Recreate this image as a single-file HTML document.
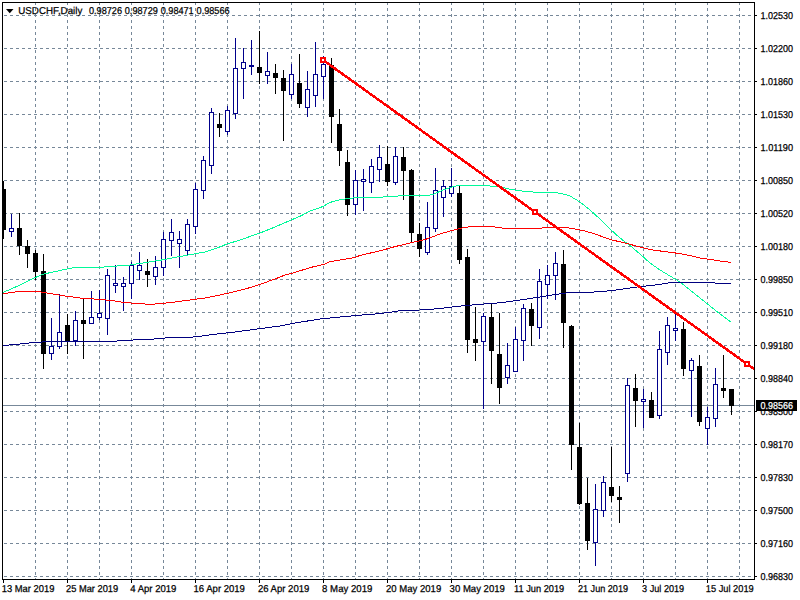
<!DOCTYPE html><html><head><meta charset="utf-8"><title>USDCHF,Daily</title>
<style>html,body{margin:0;padding:0;background:#fff;overflow:hidden}svg{display:block}text{font-family:"Liberation Sans",sans-serif;font-size:10px;text-rendering:geometricPrecision;fill:#000;stroke:#000;stroke-width:0.25px}</style></head><body>
<svg width="800" height="600" viewBox="0 0 800 600">
<rect width="800" height="600" fill="#fff"/>
<g shape-rendering="crispEdges" stroke="#778899" stroke-width="1" stroke-dasharray="3 3" fill="none">
<path d="M4 15.5H754"/>
<path d="M4 48.5H754"/>
<path d="M4 81.5H754"/>
<path d="M4 114.5H754"/>
<path d="M4 147.5H754"/>
<path d="M4 180.5H754"/>
<path d="M4 213.5H754"/>
<path d="M4 246.5H754"/>
<path d="M4 279.5H754"/>
<path d="M4 312.5H754"/>
<path d="M4 345.5H754"/>
<path d="M4 378.5H754"/>
<path d="M4 411.5H754"/>
<path d="M4 444.5H754"/>
<path d="M4 477.5H754"/>
<path d="M4 510.5H754"/>
<path d="M4 543.5H754"/>
<path d="M4 576.5H754"/>
<path d="M35.5 2V579"/>
<path d="M67.5 2V579"/>
<path d="M99.5 2V579"/>
<path d="M131.5 2V579"/>
<path d="M163.5 2V579"/>
<path d="M195.5 2V579"/>
<path d="M227.5 2V579"/>
<path d="M259.5 2V579"/>
<path d="M291.5 2V579"/>
<path d="M323.5 2V579"/>
<path d="M355.5 2V579"/>
<path d="M387.5 2V579"/>
<path d="M419.5 2V579"/>
<path d="M451.5 2V579"/>
<path d="M483.5 2V579"/>
<path d="M515.5 2V579"/>
<path d="M547.5 2V579"/>
<path d="M579.5 2V579"/>
<path d="M611.5 2V579"/>
<path d="M643.5 2V579"/>
<path d="M675.5 2V579"/>
<path d="M707.5 2V579"/>
<path d="M739.5 2V579"/>
</g>
<path shape-rendering="crispEdges" d="M3 405.5H754" stroke="#778899" stroke-width="1"/>
<g shape-rendering="crispEdges">
<rect x="3" y="181" width="1" height="58" fill="#000"/>
<rect x="3" y="189" width="3" height="41" fill="#000"/>
<rect x="11" y="214" width="1" height="14" fill="#00008b"/>
<rect x="11" y="232" width="1" height="5" fill="#00008b"/>
<rect x="9" y="228" width="5" height="4" fill="#00008b"/>
<rect x="10" y="229" width="3" height="2" fill="#fff"/>
<rect x="19" y="213" width="1" height="42" fill="#000"/>
<rect x="17" y="228" width="5" height="18" fill="#000"/>
<rect x="27" y="240" width="1" height="28" fill="#000"/>
<rect x="25" y="246" width="5" height="8" fill="#000"/>
<rect x="35" y="250" width="1" height="30" fill="#000"/>
<rect x="33" y="253" width="5" height="19" fill="#000"/>
<rect x="43" y="254" width="1" height="115" fill="#000"/>
<rect x="41" y="271" width="5" height="83" fill="#000"/>
<rect x="51" y="318" width="1" height="28" fill="#00008b"/>
<rect x="51" y="354" width="1" height="6" fill="#00008b"/>
<rect x="49" y="346" width="5" height="8" fill="#00008b"/>
<rect x="50" y="347" width="3" height="6" fill="#fff"/>
<rect x="59" y="294" width="1" height="38" fill="#00008b"/>
<rect x="59" y="347" width="1" height="2" fill="#00008b"/>
<rect x="57" y="332" width="5" height="15" fill="#00008b"/>
<rect x="58" y="333" width="3" height="13" fill="#fff"/>
<rect x="67" y="314" width="1" height="40" fill="#000"/>
<rect x="65" y="325" width="5" height="17" fill="#000"/>
<rect x="75" y="311" width="1" height="9" fill="#00008b"/>
<rect x="75" y="341" width="1" height="5" fill="#00008b"/>
<rect x="73" y="320" width="5" height="21" fill="#00008b"/>
<rect x="74" y="321" width="3" height="19" fill="#fff"/>
<rect x="83" y="299" width="1" height="60" fill="#000"/>
<rect x="81" y="320" width="5" height="4" fill="#000"/>
<rect x="91" y="291" width="1" height="26" fill="#00008b"/>
<rect x="89" y="317" width="5" height="7" fill="#00008b"/>
<rect x="90" y="318" width="3" height="5" fill="#fff"/>
<rect x="99" y="290" width="1" height="23" fill="#00008b"/>
<rect x="99" y="318" width="1" height="2" fill="#00008b"/>
<rect x="97" y="313" width="5" height="5" fill="#00008b"/>
<rect x="98" y="314" width="3" height="3" fill="#fff"/>
<rect x="107" y="269" width="1" height="6" fill="#00008b"/>
<rect x="107" y="319" width="1" height="16" fill="#00008b"/>
<rect x="105" y="275" width="5" height="44" fill="#00008b"/>
<rect x="106" y="276" width="3" height="42" fill="#fff"/>
<rect x="115" y="265" width="1" height="18" fill="#00008b"/>
<rect x="115" y="286" width="1" height="7" fill="#00008b"/>
<rect x="113" y="283" width="5" height="3" fill="#00008b"/>
<rect x="114" y="284" width="3" height="1" fill="#fff"/>
<rect x="123" y="277" width="1" height="6" fill="#00008b"/>
<rect x="123" y="287" width="1" height="24" fill="#00008b"/>
<rect x="121" y="283" width="5" height="4" fill="#00008b"/>
<rect x="122" y="284" width="3" height="2" fill="#fff"/>
<rect x="131" y="262" width="1" height="3" fill="#00008b"/>
<rect x="131" y="284" width="1" height="15" fill="#00008b"/>
<rect x="129" y="265" width="5" height="19" fill="#00008b"/>
<rect x="130" y="266" width="3" height="17" fill="#fff"/>
<rect x="139" y="252" width="1" height="13" fill="#00008b"/>
<rect x="139" y="271" width="1" height="9" fill="#00008b"/>
<rect x="137" y="265" width="5" height="6" fill="#00008b"/>
<rect x="138" y="266" width="3" height="4" fill="#fff"/>
<rect x="147" y="259" width="1" height="28" fill="#000"/>
<rect x="145" y="271" width="5" height="4" fill="#000"/>
<rect x="155" y="256" width="1" height="11" fill="#00008b"/>
<rect x="155" y="277" width="1" height="8" fill="#00008b"/>
<rect x="153" y="267" width="5" height="10" fill="#00008b"/>
<rect x="154" y="268" width="3" height="8" fill="#fff"/>
<rect x="163" y="232" width="1" height="7" fill="#00008b"/>
<rect x="163" y="268" width="1" height="8" fill="#00008b"/>
<rect x="161" y="239" width="5" height="29" fill="#00008b"/>
<rect x="162" y="240" width="3" height="27" fill="#fff"/>
<rect x="171" y="219" width="1" height="13" fill="#00008b"/>
<rect x="171" y="241" width="1" height="15" fill="#00008b"/>
<rect x="169" y="232" width="5" height="9" fill="#00008b"/>
<rect x="170" y="233" width="3" height="7" fill="#fff"/>
<rect x="179" y="231" width="1" height="8" fill="#00008b"/>
<rect x="179" y="244" width="1" height="24" fill="#00008b"/>
<rect x="177" y="239" width="5" height="5" fill="#00008b"/>
<rect x="178" y="240" width="3" height="3" fill="#fff"/>
<rect x="187" y="219" width="1" height="5" fill="#00008b"/>
<rect x="187" y="251" width="1" height="4" fill="#00008b"/>
<rect x="185" y="224" width="5" height="27" fill="#00008b"/>
<rect x="186" y="225" width="3" height="25" fill="#fff"/>
<rect x="195" y="183" width="1" height="6" fill="#00008b"/>
<rect x="195" y="227" width="1" height="7" fill="#00008b"/>
<rect x="193" y="189" width="5" height="38" fill="#00008b"/>
<rect x="194" y="190" width="3" height="36" fill="#fff"/>
<rect x="203" y="156" width="1" height="4" fill="#00008b"/>
<rect x="203" y="191" width="1" height="8" fill="#00008b"/>
<rect x="201" y="160" width="5" height="31" fill="#00008b"/>
<rect x="202" y="161" width="3" height="29" fill="#fff"/>
<rect x="211" y="108" width="1" height="4" fill="#00008b"/>
<rect x="211" y="166" width="1" height="8" fill="#00008b"/>
<rect x="209" y="112" width="5" height="54" fill="#00008b"/>
<rect x="210" y="113" width="3" height="52" fill="#fff"/>
<rect x="219" y="113" width="1" height="24" fill="#000"/>
<rect x="217" y="124" width="5" height="4" fill="#000"/>
<rect x="227" y="106" width="1" height="4" fill="#00008b"/>
<rect x="227" y="132" width="1" height="3" fill="#00008b"/>
<rect x="225" y="110" width="5" height="22" fill="#00008b"/>
<rect x="226" y="111" width="3" height="20" fill="#fff"/>
<rect x="235" y="38" width="1" height="30" fill="#00008b"/>
<rect x="235" y="114" width="1" height="5" fill="#00008b"/>
<rect x="233" y="68" width="5" height="46" fill="#00008b"/>
<rect x="234" y="69" width="3" height="44" fill="#fff"/>
<rect x="243" y="48" width="1" height="14" fill="#00008b"/>
<rect x="243" y="69" width="1" height="30" fill="#00008b"/>
<rect x="241" y="62" width="5" height="7" fill="#00008b"/>
<rect x="242" y="63" width="3" height="5" fill="#fff"/>
<rect x="251" y="40" width="1" height="25" fill="#00008b"/>
<rect x="251" y="67" width="1" height="8" fill="#00008b"/>
<rect x="249" y="65" width="5" height="2" fill="#00008b"/>
<rect x="259" y="31" width="1" height="53" fill="#000"/>
<rect x="257" y="67" width="5" height="6" fill="#000"/>
<rect x="267" y="52" width="1" height="19" fill="#00008b"/>
<rect x="267" y="76" width="1" height="8" fill="#00008b"/>
<rect x="265" y="71" width="5" height="5" fill="#00008b"/>
<rect x="266" y="72" width="3" height="3" fill="#fff"/>
<rect x="275" y="64" width="1" height="30" fill="#000"/>
<rect x="273" y="73" width="5" height="5" fill="#000"/>
<rect x="283" y="70" width="1" height="71" fill="#000"/>
<rect x="281" y="78" width="5" height="13" fill="#000"/>
<rect x="291" y="64" width="1" height="10" fill="#00008b"/>
<rect x="291" y="95" width="1" height="4" fill="#00008b"/>
<rect x="289" y="74" width="5" height="21" fill="#00008b"/>
<rect x="290" y="75" width="3" height="19" fill="#fff"/>
<rect x="299" y="54" width="1" height="54" fill="#000"/>
<rect x="297" y="83" width="5" height="21" fill="#000"/>
<rect x="307" y="71" width="1" height="18" fill="#00008b"/>
<rect x="307" y="108" width="1" height="9" fill="#00008b"/>
<rect x="305" y="89" width="5" height="19" fill="#00008b"/>
<rect x="306" y="90" width="3" height="17" fill="#fff"/>
<rect x="315" y="42" width="1" height="32" fill="#00008b"/>
<rect x="315" y="96" width="1" height="11" fill="#00008b"/>
<rect x="313" y="74" width="5" height="22" fill="#00008b"/>
<rect x="314" y="75" width="3" height="20" fill="#fff"/>
<rect x="323" y="56" width="1" height="8" fill="#00008b"/>
<rect x="323" y="77" width="1" height="22" fill="#00008b"/>
<rect x="321" y="64" width="5" height="13" fill="#00008b"/>
<rect x="322" y="65" width="3" height="11" fill="#fff"/>
<rect x="331" y="58" width="1" height="85" fill="#000"/>
<rect x="329" y="65" width="5" height="52" fill="#000"/>
<rect x="339" y="109" width="1" height="57" fill="#000"/>
<rect x="337" y="124" width="5" height="27" fill="#000"/>
<rect x="347" y="150" width="1" height="66" fill="#000"/>
<rect x="345" y="162" width="5" height="43" fill="#000"/>
<rect x="355" y="170" width="1" height="10" fill="#00008b"/>
<rect x="355" y="205" width="1" height="10" fill="#00008b"/>
<rect x="353" y="180" width="5" height="25" fill="#00008b"/>
<rect x="354" y="181" width="3" height="23" fill="#fff"/>
<rect x="363" y="169" width="1" height="10" fill="#00008b"/>
<rect x="363" y="182" width="1" height="29" fill="#00008b"/>
<rect x="361" y="179" width="5" height="3" fill="#00008b"/>
<rect x="362" y="180" width="3" height="1" fill="#fff"/>
<rect x="371" y="159" width="1" height="7" fill="#00008b"/>
<rect x="371" y="183" width="1" height="10" fill="#00008b"/>
<rect x="369" y="166" width="5" height="17" fill="#00008b"/>
<rect x="370" y="167" width="3" height="15" fill="#fff"/>
<rect x="379" y="145" width="1" height="12" fill="#00008b"/>
<rect x="379" y="170" width="1" height="12" fill="#00008b"/>
<rect x="377" y="157" width="5" height="13" fill="#00008b"/>
<rect x="378" y="158" width="3" height="11" fill="#fff"/>
<rect x="387" y="146" width="1" height="40" fill="#000"/>
<rect x="385" y="164" width="5" height="18" fill="#000"/>
<rect x="395" y="147" width="1" height="9" fill="#00008b"/>
<rect x="395" y="183" width="1" height="2" fill="#00008b"/>
<rect x="393" y="156" width="5" height="27" fill="#00008b"/>
<rect x="394" y="157" width="3" height="25" fill="#fff"/>
<rect x="403" y="147" width="1" height="53" fill="#000"/>
<rect x="401" y="157" width="5" height="14" fill="#000"/>
<rect x="411" y="169" width="1" height="73" fill="#000"/>
<rect x="409" y="170" width="5" height="63" fill="#000"/>
<rect x="419" y="223" width="1" height="34" fill="#000"/>
<rect x="417" y="234" width="5" height="15" fill="#000"/>
<rect x="427" y="202" width="1" height="25" fill="#00008b"/>
<rect x="427" y="253" width="1" height="2" fill="#00008b"/>
<rect x="425" y="227" width="5" height="26" fill="#00008b"/>
<rect x="426" y="228" width="3" height="24" fill="#fff"/>
<rect x="435" y="168" width="1" height="22" fill="#00008b"/>
<rect x="435" y="229" width="1" height="3" fill="#00008b"/>
<rect x="433" y="190" width="5" height="39" fill="#00008b"/>
<rect x="434" y="191" width="3" height="37" fill="#fff"/>
<rect x="443" y="180" width="1" height="6" fill="#00008b"/>
<rect x="443" y="198" width="1" height="19" fill="#00008b"/>
<rect x="441" y="186" width="5" height="12" fill="#00008b"/>
<rect x="442" y="187" width="3" height="10" fill="#fff"/>
<rect x="451" y="168" width="1" height="18" fill="#00008b"/>
<rect x="451" y="194" width="1" height="3" fill="#00008b"/>
<rect x="449" y="186" width="5" height="8" fill="#00008b"/>
<rect x="450" y="187" width="3" height="6" fill="#fff"/>
<rect x="459" y="186" width="1" height="78" fill="#000"/>
<rect x="457" y="193" width="5" height="67" fill="#000"/>
<rect x="467" y="249" width="1" height="104" fill="#000"/>
<rect x="465" y="257" width="5" height="83" fill="#000"/>
<rect x="475" y="307" width="1" height="54" fill="#000"/>
<rect x="473" y="339" width="5" height="4" fill="#000"/>
<rect x="483" y="313" width="1" height="3" fill="#00008b"/>
<rect x="483" y="342" width="1" height="67" fill="#00008b"/>
<rect x="481" y="316" width="5" height="26" fill="#00008b"/>
<rect x="482" y="317" width="3" height="24" fill="#fff"/>
<rect x="491" y="303" width="1" height="81" fill="#000"/>
<rect x="489" y="317" width="5" height="34" fill="#000"/>
<rect x="499" y="313" width="1" height="91" fill="#000"/>
<rect x="497" y="354" width="5" height="34" fill="#000"/>
<rect x="507" y="343" width="1" height="22" fill="#00008b"/>
<rect x="507" y="378" width="1" height="6" fill="#00008b"/>
<rect x="505" y="365" width="5" height="13" fill="#00008b"/>
<rect x="506" y="366" width="3" height="11" fill="#fff"/>
<rect x="515" y="327" width="1" height="12" fill="#00008b"/>
<rect x="513" y="339" width="5" height="33" fill="#00008b"/>
<rect x="514" y="340" width="3" height="31" fill="#fff"/>
<rect x="523" y="304" width="1" height="4" fill="#00008b"/>
<rect x="523" y="341" width="1" height="20" fill="#00008b"/>
<rect x="521" y="308" width="5" height="33" fill="#00008b"/>
<rect x="522" y="309" width="3" height="31" fill="#fff"/>
<rect x="531" y="303" width="1" height="43" fill="#000"/>
<rect x="529" y="309" width="5" height="17" fill="#000"/>
<rect x="539" y="269" width="1" height="12" fill="#00008b"/>
<rect x="539" y="328" width="1" height="11" fill="#00008b"/>
<rect x="537" y="281" width="5" height="47" fill="#00008b"/>
<rect x="538" y="282" width="3" height="45" fill="#fff"/>
<rect x="547" y="265" width="1" height="10" fill="#00008b"/>
<rect x="547" y="285" width="1" height="14" fill="#00008b"/>
<rect x="545" y="275" width="5" height="10" fill="#00008b"/>
<rect x="546" y="276" width="3" height="8" fill="#fff"/>
<rect x="555" y="252" width="1" height="11" fill="#00008b"/>
<rect x="555" y="276" width="1" height="24" fill="#00008b"/>
<rect x="553" y="263" width="5" height="13" fill="#00008b"/>
<rect x="554" y="264" width="3" height="11" fill="#fff"/>
<rect x="563" y="250" width="1" height="98" fill="#000"/>
<rect x="561" y="264" width="5" height="59" fill="#000"/>
<rect x="571" y="325" width="1" height="145" fill="#000"/>
<rect x="569" y="326" width="5" height="119" fill="#000"/>
<rect x="579" y="423" width="1" height="82" fill="#000"/>
<rect x="577" y="447" width="5" height="57" fill="#000"/>
<rect x="587" y="478" width="1" height="72" fill="#000"/>
<rect x="585" y="503" width="5" height="38" fill="#000"/>
<rect x="595" y="484" width="1" height="25" fill="#00008b"/>
<rect x="595" y="543" width="1" height="23" fill="#00008b"/>
<rect x="593" y="509" width="5" height="34" fill="#00008b"/>
<rect x="594" y="510" width="3" height="32" fill="#fff"/>
<rect x="603" y="476" width="1" height="6" fill="#00008b"/>
<rect x="603" y="511" width="1" height="6" fill="#00008b"/>
<rect x="601" y="482" width="5" height="29" fill="#00008b"/>
<rect x="602" y="483" width="3" height="27" fill="#fff"/>
<rect x="611" y="447" width="1" height="55" fill="#000"/>
<rect x="609" y="487" width="5" height="9" fill="#000"/>
<rect x="619" y="486" width="1" height="37" fill="#000"/>
<rect x="617" y="497" width="5" height="3" fill="#000"/>
<rect x="627" y="378" width="1" height="7" fill="#00008b"/>
<rect x="627" y="474" width="1" height="8" fill="#00008b"/>
<rect x="625" y="385" width="5" height="89" fill="#00008b"/>
<rect x="626" y="386" width="3" height="87" fill="#fff"/>
<rect x="635" y="374" width="1" height="53" fill="#000"/>
<rect x="633" y="388" width="5" height="13" fill="#000"/>
<rect x="643" y="389" width="1" height="10" fill="#00008b"/>
<rect x="643" y="402" width="1" height="26" fill="#00008b"/>
<rect x="641" y="399" width="5" height="3" fill="#00008b"/>
<rect x="642" y="400" width="3" height="1" fill="#fff"/>
<rect x="651" y="392" width="1" height="26" fill="#000"/>
<rect x="649" y="400" width="5" height="18" fill="#000"/>
<rect x="659" y="331" width="1" height="18" fill="#00008b"/>
<rect x="659" y="416" width="1" height="3" fill="#00008b"/>
<rect x="657" y="349" width="5" height="67" fill="#00008b"/>
<rect x="658" y="350" width="3" height="65" fill="#fff"/>
<rect x="667" y="317" width="1" height="8" fill="#00008b"/>
<rect x="667" y="353" width="1" height="12" fill="#00008b"/>
<rect x="665" y="325" width="5" height="28" fill="#00008b"/>
<rect x="666" y="326" width="3" height="26" fill="#fff"/>
<rect x="675" y="313" width="1" height="15" fill="#00008b"/>
<rect x="675" y="331" width="1" height="10" fill="#00008b"/>
<rect x="673" y="328" width="5" height="3" fill="#00008b"/>
<rect x="674" y="329" width="3" height="1" fill="#fff"/>
<rect x="683" y="322" width="1" height="54" fill="#000"/>
<rect x="681" y="329" width="5" height="40" fill="#000"/>
<rect x="691" y="358" width="1" height="2" fill="#00008b"/>
<rect x="691" y="371" width="1" height="46" fill="#00008b"/>
<rect x="689" y="360" width="5" height="11" fill="#00008b"/>
<rect x="690" y="361" width="3" height="9" fill="#fff"/>
<rect x="699" y="355" width="1" height="71" fill="#000"/>
<rect x="697" y="366" width="5" height="56" fill="#000"/>
<rect x="707" y="407" width="1" height="10" fill="#00008b"/>
<rect x="707" y="429" width="1" height="16" fill="#00008b"/>
<rect x="705" y="417" width="5" height="12" fill="#00008b"/>
<rect x="706" y="418" width="3" height="10" fill="#fff"/>
<rect x="715" y="368" width="1" height="16" fill="#00008b"/>
<rect x="715" y="419" width="1" height="8" fill="#00008b"/>
<rect x="713" y="384" width="5" height="35" fill="#00008b"/>
<rect x="714" y="385" width="3" height="33" fill="#fff"/>
<rect x="723" y="355" width="1" height="43" fill="#000"/>
<rect x="721" y="388" width="5" height="3" fill="#000"/>
<rect x="731" y="389" width="1" height="26" fill="#000"/>
<rect x="729" y="389" width="5" height="17" fill="#000"/>
</g>
<polyline points="3.0,292.5 20.0,285.0 35.0,277.7 43.0,274.2 60.0,270.5 74.0,267.5 100.0,267.3 130.0,265.0 160.0,260.3 187.0,255.2 204.0,252.2 215.0,248.8 227.0,244.0 240.0,240.0 260.0,233.0 275.0,227.0 290.0,220.5 300.0,216.3 310.0,211.0 323.0,206.5 330.0,202.4 340.0,199.8 347.0,198.6 360.0,197.3 392.0,196.9 400.0,195.7 428.0,195.6 434.0,194.0 440.0,191.3 450.0,187.5 457.0,185.7 485.0,185.6 500.0,186.9 510.0,189.3 525.0,191.5 540.0,192.5 557.0,192.8 565.0,194.4 570.0,196.0 575.0,199.0 580.0,202.0 590.0,210.0 600.0,219.0 610.0,229.0 620.0,238.0 630.0,245.5 640.0,254.0 650.0,263.0 660.0,270.0 670.0,276.0 680.0,282.0 690.0,290.0 700.0,298.0 710.0,306.0 720.0,314.0 731.0,322.0" fill="none" shape-rendering="crispEdges" stroke="#00fa9a" stroke-width="1" stroke-linejoin="round"/>
<polyline points="3.0,293.6 20.0,291.4 38.0,291.4 50.0,293.6 65.0,296.0 80.0,298.0 100.0,299.4 115.0,301.0 125.0,302.6 145.0,304.0 155.0,304.0 160.0,303.6 175.0,302.0 190.0,300.0 205.0,298.0 220.0,295.0 235.0,291.6 250.0,287.6 260.0,284.4 275.0,279.0 285.0,275.0 295.0,272.4 310.0,267.6 325.0,264.0 330.0,261.6 340.0,260.0 355.0,257.5 360.0,255.4 375.0,252.0 383.0,250.0 395.0,246.6 410.0,243.0 425.0,239.6 440.0,234.0 450.0,231.0 460.0,228.4 470.0,226.6 485.0,226.0 495.0,227.0 505.0,228.4 540.0,228.4 545.0,227.4 565.0,227.4 575.0,229.0 585.0,231.0 595.0,234.0 610.0,239.5 625.0,243.0 640.0,247.0 650.0,249.6 665.0,251.6 680.0,253.6 690.0,255.6 700.0,258.0 710.0,259.4 720.0,261.0 731.0,262.4" fill="none" shape-rendering="crispEdges" stroke="#ff0000" stroke-width="1" stroke-linejoin="round"/>
<polyline points="3.0,345.6 20.0,344.0 35.0,342.4 50.0,341.6 110.0,341.5 125.0,340.5 140.0,339.6 150.0,339.4 165.0,338.0 190.0,337.4 205.0,335.6 220.0,333.6 235.0,332.0 250.0,330.0 265.0,328.0 280.0,326.0 295.0,323.0 305.0,321.4 320.0,319.0 340.0,317.0 355.0,315.6 375.0,314.0 390.0,312.4 400.0,310.6 420.0,310.0 440.0,308.6 450.0,307.2 465.0,305.6 480.0,304.3 500.0,302.8 520.0,300.0 540.0,297.0 548.0,295.6 560.0,293.8 568.0,292.8 590.0,292.3 605.0,291.3 620.0,289.5 635.0,287.3 655.0,285.0 665.0,283.6 672.0,282.0 710.0,282.0 715.0,283.0 731.0,283.0" fill="none" shape-rendering="crispEdges" stroke="#000080" stroke-width="1" stroke-linejoin="round"/>
<path shape-rendering="crispEdges" d="M323 60L754 369" stroke="#ff0000" stroke-width="2.5" fill="none"/>
<rect shape-rendering="crispEdges" x="320" y="57" width="6" height="6" fill="#ff0000"/>
<rect shape-rendering="crispEdges" x="322" y="59" width="2" height="2" fill="#fff"/>
<rect shape-rendering="crispEdges" x="532" y="209" width="6" height="6" fill="#ff0000"/>
<rect shape-rendering="crispEdges" x="534" y="211" width="2" height="2" fill="#fff"/>
<rect shape-rendering="crispEdges" x="744" y="361" width="6" height="6" fill="#ff0000"/>
<rect shape-rendering="crispEdges" x="746" y="363" width="2" height="2" fill="#fff"/>
<g shape-rendering="crispEdges" fill="#000">
<rect x="2" y="2" width="753" height="1"/>
<rect x="2" y="2" width="1" height="578"/>
<rect x="754" y="2" width="1" height="578"/>
<rect x="2" y="579" width="753" height="1"/>
<rect x="755" y="15" width="2" height="1"/>
<rect x="755" y="48" width="2" height="1"/>
<rect x="755" y="81" width="2" height="1"/>
<rect x="755" y="114" width="2" height="1"/>
<rect x="755" y="147" width="2" height="1"/>
<rect x="755" y="180" width="2" height="1"/>
<rect x="755" y="213" width="2" height="1"/>
<rect x="755" y="246" width="2" height="1"/>
<rect x="755" y="279" width="2" height="1"/>
<rect x="755" y="312" width="2" height="1"/>
<rect x="755" y="345" width="2" height="1"/>
<rect x="755" y="378" width="2" height="1"/>
<rect x="755" y="411" width="2" height="1"/>
<rect x="755" y="444" width="2" height="1"/>
<rect x="755" y="477" width="2" height="1"/>
<rect x="755" y="510" width="2" height="1"/>
<rect x="755" y="543" width="2" height="1"/>
<rect x="755" y="576" width="2" height="1"/>
<rect x="3" y="580" width="1" height="3"/>
<rect x="67" y="580" width="1" height="3"/>
<rect x="131" y="580" width="1" height="3"/>
<rect x="195" y="580" width="1" height="3"/>
<rect x="259" y="580" width="1" height="3"/>
<rect x="323" y="580" width="1" height="3"/>
<rect x="387" y="580" width="1" height="3"/>
<rect x="451" y="580" width="1" height="3"/>
<rect x="515" y="580" width="1" height="3"/>
<rect x="579" y="580" width="1" height="3"/>
<rect x="643" y="580" width="1" height="3"/>
<rect x="707" y="580" width="1" height="3"/>
</g>
<text x="760.5" y="19.1" textLength="32.5" lengthAdjust="spacingAndGlyphs">1.02530</text>
<text x="760.5" y="52.1" textLength="32.5" lengthAdjust="spacingAndGlyphs">1.02200</text>
<text x="760.5" y="85.1" textLength="32.5" lengthAdjust="spacingAndGlyphs">1.01860</text>
<text x="760.5" y="118.1" textLength="32.5" lengthAdjust="spacingAndGlyphs">1.01530</text>
<text x="760.5" y="151.1" textLength="32.5" lengthAdjust="spacingAndGlyphs">1.01190</text>
<text x="760.5" y="184.1" textLength="32.5" lengthAdjust="spacingAndGlyphs">1.00850</text>
<text x="760.5" y="217.1" textLength="32.5" lengthAdjust="spacingAndGlyphs">1.00520</text>
<text x="760.5" y="250.1" textLength="32.5" lengthAdjust="spacingAndGlyphs">1.00180</text>
<text x="760.5" y="283.1" textLength="32.5" lengthAdjust="spacingAndGlyphs">0.99850</text>
<text x="760.5" y="316.1" textLength="32.5" lengthAdjust="spacingAndGlyphs">0.99510</text>
<text x="760.5" y="349.1" textLength="32.5" lengthAdjust="spacingAndGlyphs">0.99180</text>
<text x="760.5" y="382.1" textLength="32.5" lengthAdjust="spacingAndGlyphs">0.98840</text>
<text x="760.5" y="415.1" textLength="32.5" lengthAdjust="spacingAndGlyphs">0.98500</text>
<text x="760.5" y="448.1" textLength="32.5" lengthAdjust="spacingAndGlyphs">0.98170</text>
<text x="760.5" y="481.1" textLength="32.5" lengthAdjust="spacingAndGlyphs">0.97830</text>
<text x="760.5" y="514.1" textLength="32.5" lengthAdjust="spacingAndGlyphs">0.97500</text>
<text x="760.5" y="547.1" textLength="32.5" lengthAdjust="spacingAndGlyphs">0.97160</text>
<text x="760.5" y="580.1" textLength="32.5" lengthAdjust="spacingAndGlyphs">0.96830</text>
<rect shape-rendering="crispEdges" x="756" y="400" width="41" height="11" fill="#000"/>
<text x="760.5" y="408.8" textLength="32.5" lengthAdjust="spacingAndGlyphs" style="fill:#fff;stroke:#fff">0.98566</text>
<text x="1.8" y="591.9" textLength="52.6" lengthAdjust="spacingAndGlyphs">13 Mar 2019</text>
<text x="66.0" y="591.9" textLength="52.2" lengthAdjust="spacingAndGlyphs">25 Mar 2019</text>
<text x="130.2" y="591.9" textLength="46.2" lengthAdjust="spacingAndGlyphs">4 Apr 2019</text>
<text x="193.5" y="591.9" textLength="51.4" lengthAdjust="spacingAndGlyphs">16 Apr 2019</text>
<text x="257.9" y="591.9" textLength="51.4" lengthAdjust="spacingAndGlyphs">26 Apr 2019</text>
<text x="322.1" y="591.9" textLength="50.3" lengthAdjust="spacingAndGlyphs">8 May 2019</text>
<text x="386.0" y="591.9" textLength="55.2" lengthAdjust="spacingAndGlyphs">20 May 2019</text>
<text x="449.6" y="591.9" textLength="55.3" lengthAdjust="spacingAndGlyphs">30 May 2019</text>
<text x="514.0" y="591.9" textLength="50.2" lengthAdjust="spacingAndGlyphs">11 Jun 2019</text>
<text x="578.0" y="591.9" textLength="50.0" lengthAdjust="spacingAndGlyphs">21 Jun 2019</text>
<text x="642.1" y="591.9" textLength="42.1" lengthAdjust="spacingAndGlyphs">3 Jul 2019</text>
<text x="705.8" y="591.9" textLength="47.9" lengthAdjust="spacingAndGlyphs">15 Jul 2019</text>
<path d="M6 9H13.5L9.75 13.2Z" fill="#000"/>
<text x="18.3" y="14" textLength="64" lengthAdjust="spacingAndGlyphs">USDCHF,Daily</text>
<text x="89.0" y="14" textLength="33" lengthAdjust="spacingAndGlyphs">0.98726</text>
<text x="124.8" y="14" textLength="33" lengthAdjust="spacingAndGlyphs">0.98729</text>
<text x="160.7" y="14" textLength="33" lengthAdjust="spacingAndGlyphs">0.98471</text>
<text x="196.6" y="14" textLength="33" lengthAdjust="spacingAndGlyphs">0.98566</text>
</svg></body></html>
